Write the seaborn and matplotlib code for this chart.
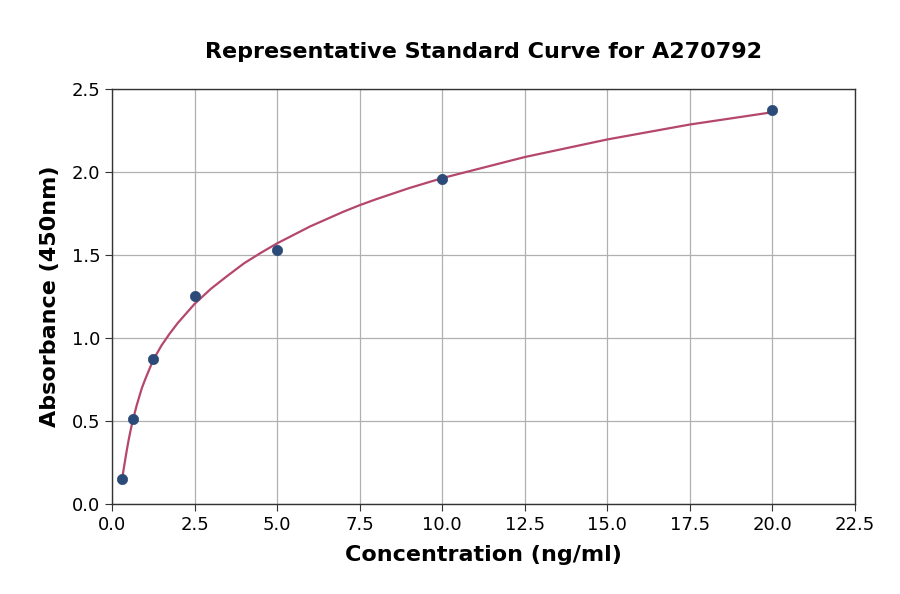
import numpy as np
import pandas as pd
import matplotlib
matplotlib.use("Agg")
import matplotlib.pyplot as plt
import seaborn as sns

# standard points
conc = [0.3125, 0.625, 1.25, 2.5, 5, 10, 20]
absorb = [0.15, 0.51, 0.872, 1.251, 1.532, 1.956, 2.375]

# fitted curve
curve_x = [0.3125, 0.35, 0.4, 0.45, 0.5, 0.55, 0.625, 0.75, 0.9, 1.0, 1.25, 1.5, 1.75,
           2.0, 2.5, 3.0, 3.5, 4.0, 4.5, 5.0, 6.0, 7.0, 7.5, 8.0, 9.0, 10.0, 12.5,
           15.0, 17.5, 20.0]
curve_y = [0.158, 0.205, 0.265, 0.325, 0.38, 0.43, 0.50, 0.595, 0.695, 0.748, 0.868, 0.955,
           1.027, 1.092, 1.205, 1.297, 1.375, 1.45, 1.512, 1.57, 1.672, 1.76, 1.80, 1.836,
           1.903, 1.963, 2.09, 2.196, 2.286, 2.36]

pts = pd.DataFrame({"Concentration": conc, "Absorbance": absorb})
fit = pd.DataFrame({"Concentration": curve_x, "Absorbance": curve_y})

sns.set_style("ticks")
plt.rcParams["font.family"] = ["DejaVu Sans"]
plt.rcParams["text.color"] = "black"
plt.rcParams["axes.labelcolor"] = "black"
plt.rcParams["xtick.color"] = "black"
plt.rcParams["ytick.color"] = "black"

fig = plt.figure(figsize=(9, 5.94), dpi=100)
ax = fig.add_axes([0.1244, 0.1515, 0.8256, 0.6987])

sns.lineplot(data=fit, x="Concentration", y="Absorbance", color="#b5476a",
             linewidth=1.6, ax=ax, zorder=2)
sns.scatterplot(data=pts, x="Concentration", y="Absorbance", color="#2c4a78",
                s=55, edgecolor="#2c4a78", linewidth=0.5, ax=ax, zorder=3)

ax.set_xlim(0, 22.5)
ax.set_ylim(0, 2.5)
ax.set_xticks(np.arange(0, 22.6, 2.5))
ax.set_yticks(np.arange(0, 2.6, 0.5))
ax.grid(True, color="#b0b0b0", linewidth=0.9)
ax.set_axisbelow(True)
for s in ax.spines.values():
    s.set_color("#333333")
    s.set_linewidth(1.0)
ax.tick_params(labelsize=13, length=5, color="#333333")

ax.set_xlabel("Concentration (ng/ml)", fontsize=16, fontweight="bold", labelpad=8)
ax.set_ylabel("Absorbance (450nm)", fontsize=16, fontweight="bold", labelpad=8)
ax.set_title("Representative Standard Curve for A270792", fontsize=16,
             fontweight="bold", pad=22)

fig.savefig("out.png", dpi=100)
